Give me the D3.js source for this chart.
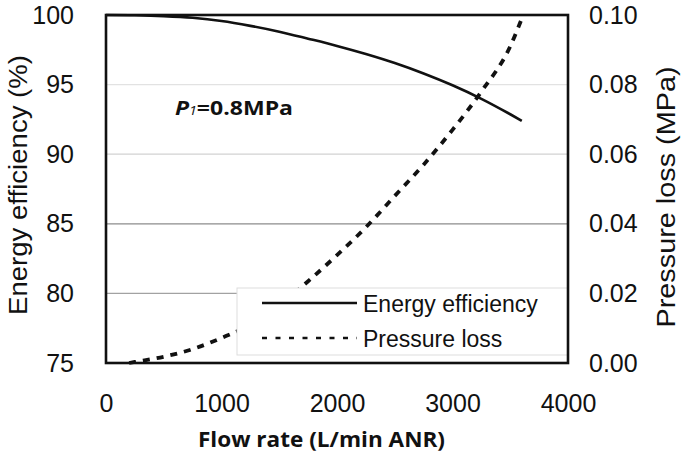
<!DOCTYPE html>
<html><head><meta charset="utf-8">
<script src="https://cdn.jsdelivr.net/npm/d3@7"></script>
<style>body{margin:0;background:#fff}svg{display:block}</style>
</head><body>
<svg id="c" width="685" height="456"></svg>
<script>
// ---- data ----
const flow = [0,250,500,750,1000,1250,1500,1750,2000,2250,2500,2750,3000,3250,3500,3600];
const efficiency = [100,99.98,99.92,99.8,99.57,99.22,98.8,98.3,97.78,97.2,96.55,95.8,94.95,93.98,92.87,92.4];
const flowPressure = [200,250,500,750,1000,1250,1500,1750,2000,2250,2500,2750,3000,3250,3500,3600];
const pressureLoss = [0,0.0003,0.0018,0.004,0.0072,0.011,0.0165,0.0235,0.031,0.039,0.048,0.057,0.067,0.078,0.091,0.099];
const xTicks = [0,1000,2000,3000,4000];
const yLeftTicks = [75,80,85,90,95,100];
const yRightTicks = [0,0.02,0.04,0.06,0.08,0.10];
const gridValues = [80,85,90,95];
const seriesNames = ["Energy efficiency","Pressure loss"];

// ---- layout ----
const W=685,H=456,m={l:106,r:117,t:15,b:93};
const svg=d3.select("#c");
const x=d3.scaleLinear().domain([0,4000]).range([m.l,W-m.r]);
const yL=d3.scaleLinear().domain([75,100]).range([H-m.b,m.t]);
const yR=d3.scaleLinear().domain([0,0.1]).range([H-m.b,m.t]);
const font="'Liberation Sans', Arial, sans-serif";
const gridColor={80:"#a2a2a2",85:"#8c8c8c",90:"#d2d2d2",95:"#e2e2e2"};

// gridlines
svg.append("g").selectAll("line").data(gridValues).join("line")
  .attr("x1",m.l).attr("x2",W-m.r)
  .attr("y1",d=>yL(d)).attr("y2",d=>yL(d))
  .attr("stroke",d=>gridColor[d]).attr("stroke-width",1.3);

// pressure loss (dashed)
const pData=flowPressure.map((f,i)=>[f,pressureLoss[i]]);
svg.append("path").datum(pData)
  .attr("d",d3.line().x(d=>x(d[0])).y(d=>yR(d[1])).curve(d3.curveMonotoneX))
  .attr("fill","none").attr("stroke","#111").attr("stroke-width",3.8)
  .attr("stroke-dasharray","7,7");

// energy efficiency (solid)
const eData=flow.map((f,i)=>[f,efficiency[i]]);
svg.append("path").datum(eData)
  .attr("d",d3.line().x(d=>x(d[0])).y(d=>yL(d[1])).curve(d3.curveMonotoneX))
  .attr("fill","none").attr("stroke","#111").attr("stroke-width",2.6);

// legend
const lg=svg.append("g");
lg.append("rect").attr("x",237).attr("y",288).attr("width",W-m.r-237).attr("height",67)
  .attr("fill","#fff").attr("stroke","#ddd").attr("stroke-width",1);
const legY=[303,338];
lg.selectAll("line.l").data(seriesNames).join("line")
  .attr("x1",262).attr("x2",357)
  .attr("y1",(d,i)=>legY[i]).attr("y2",(d,i)=>legY[i])
  .attr("stroke","#111").attr("stroke-width",(d,i)=>i?2.6:2.4)
  .attr("stroke-dasharray",(d,i)=>i?"5,8.5":null);
lg.selectAll("text").data(seriesNames).join("text")
  .attr("x",363).attr("y",(d,i)=>legY[i]+8.5)
  .attr("font-family",font).attr("font-size",23).attr("fill","#111")
  .text(d=>d);

// frame
svg.append("rect").attr("x",m.l).attr("y",m.t).attr("width",W-m.l-m.r).attr("height",H-m.t-m.b)
  .attr("fill","none").attr("stroke","#111").attr("stroke-width",2.6);

// axes
function styleAxis(g){
  g.select(".domain").remove();
  g.selectAll("line").remove();
  g.selectAll("text").attr("font-family",font).attr("font-size",25).attr("fill","#111");
}
svg.append("g").attr("transform",`translate(${m.l},0)`)
  .call(d3.axisLeft(yL).tickValues(yLeftTicks).tickSize(0).tickPadding(32).tickFormat(d3.format("d")))
  .call(styleAxis);
svg.append("g").attr("transform",`translate(${W-m.r},0)`)
  .call(d3.axisRight(yR).tickValues(yRightTicks).tickSize(0).tickPadding(21).tickFormat(d3.format(".2f")))
  .call(styleAxis);
svg.append("g").attr("transform",`translate(0,${H-m.b})`)
  .call(d3.axisBottom(x).tickValues(xTicks).tickSize(0).tickPadding(31).tickFormat(d3.format("d")))
  .call(styleAxis);

// axis titles
svg.append("text").attr("transform","translate(27,185) rotate(-90)")
  .attr("text-anchor","middle").attr("font-family",font).attr("font-size",26).attr("fill","#111")
  .attr("textLength",260).attr("lengthAdjust","spacingAndGlyphs")
  .text("Energy efficiency (%)");
svg.append("text").attr("transform","translate(675,197) rotate(-90)")
  .attr("text-anchor","middle").attr("font-family",font).attr("font-size",26).attr("fill","#111")
  .attr("textLength",261).attr("lengthAdjust","spacingAndGlyphs")
  .text("Pressure loss (MPa)");
svg.append("text").attr("x",198).attr("y",447)
  .attr("font-family","'Open Sans', 'Noto Sans', sans-serif").attr("font-weight",700).attr("font-size",21).attr("fill","#111")
  .attr("textLength",247).attr("lengthAdjust","spacingAndGlyphs")
  .text("Flow rate (L/min ANR)");

// annotation
const ann=svg.append("text").attr("x",175).attr("y",115)
  .attr("font-family","'Open Sans', 'Noto Sans', sans-serif").attr("font-size",19.5).attr("fill","#111")
  .attr("textLength",118).attr("lengthAdjust","spacingAndGlyphs");
ann.append("tspan").attr("font-weight",700).attr("font-style","italic").text("P");
ann.append("tspan").attr("font-style","italic").attr("font-size",12).text("1");
ann.append("tspan").attr("font-weight",700).text("=0.8MPa");
</script>
</body></html>
